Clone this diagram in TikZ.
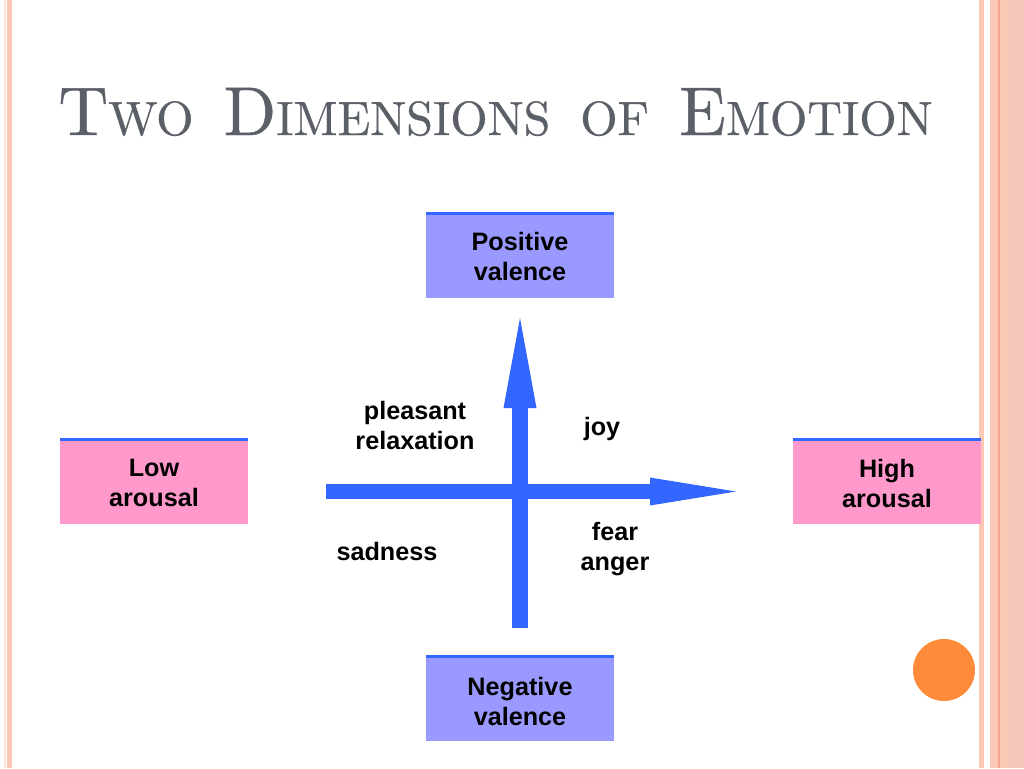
\documentclass[tikz,border=0pt]{standalone}
\usepackage{fontspec}
\newfontfamily\labelfont{Liberation Sans}
\newfontfamily\titlefont{lmroman10-regular.otf}[FakeBold=0.6]
\usetikzlibrary{arrows.meta,positioning}
\definecolor{axisblue}{HTML}{3366FF}
\definecolor{valblue}{HTML}{9999FF}
\definecolor{arpink}{HTML}{FF99CC}
\definecolor{salmon}{HTML}{FBC8B6}
\definecolor{salmondk}{HTML}{EFA58C}
\definecolor{dotorange}{HTML}{FF8B3A}
\definecolor{titlegray}{HTML}{5B6068}
\newcommand\scword[2]{{\fontsize{34.5}{36}\selectfont #1}{\fontsize{24}{26}\selectfont #2}}

\begin{document}
\begin{tikzpicture}[x=0.5pt, y=-0.5pt]
\tikzstyle{lbl}=[align=center, font=\labelfont\fontsize{12.6}{15}\selectfont\bfseries, inner sep=0pt]
\tikzstyle{valbox}=[fill=valblue]
\tikzstyle{arbox}=[fill=arpink]
\tikzstyle{topline}=[axisblue, line width=1.5pt]
\useasboundingbox (0,0) rectangle (1024,768);
% page borders
\fill[salmon] (7,0) rectangle (12,768);
\fill[salmon!50] (4,0) rectangle (5.5,768);
\fill[salmon] (979,0) rectangle (984,768);
\fill[salmon] (990,0) rectangle (1024,768);
\fill[salmondk!60] (1008,0) rectangle (1024,768);
\fill[salmondk] (998,0) rectangle (999.5,768);
% title
\node[anchor=base west, inner sep=0pt, text=titlegray, font=\titlefont\fontsize{24}{26}\selectfont] (title) at (58,135)
  {\scword{T}{WO}\hspace{7pt} \scword{D}{IMENSIONS}\hspace{7pt} \scword{}{OF}\hspace{7pt} \scword{E}{MOTION}};
% boxes
\foreach \x/\y/\s in {426/212/valbox, 426/655/valbox, 60/438/arbox, 793/438/arbox}{
  \fill[\s] (\x,\y) rectangle ++(188,86);
  \draw[topline] (\x,\y+1.5) -- ++(188,0);
}
\node[lbl] (pos) at (520,256) {Positive\\valence};
\node[lbl] (neg) at (520,701) {Negative\\valence};
\node[lbl] (low) at (154,483) {Low\\arousal};
\node[lbl] (high) at (887,483) {High\\arousal};
% axes
\coordinate (vbot) at (520,628);
\coordinate (vbase) at (520,408);
\coordinate (vtop) at (520,318);
\coordinate (hleft) at (326,491.5);
\coordinate (hbase) at (650,491.5);
\coordinate (hright) at (736,491.5);
\draw[axisblue, line width=8pt] (vbot) -- (vbase);
\fill[axisblue] ([xshift=-8.25pt]vbase) -- ([xshift=8.25pt]vbase) -- (vtop) -- cycle;
\draw[axisblue, line width=7.5pt] (hleft) -- (hbase);
\fill[axisblue] ([yshift=7pt]hbase) -- ([yshift=-7pt]hbase) -- (hright) -- cycle;
% quadrant labels
\node[lbl] (relax) at (415,425) {pleasant\\relaxation};
\node[lbl] (joy) at (602,429) {joy};
\node[lbl] (sad) at (387,551) {sadness};
\node[lbl] (fear) at (615,549) {fear\\anger};
% dot
\fill[dotorange] (944,670) circle (15.5pt);
\end{tikzpicture}
\end{document}
